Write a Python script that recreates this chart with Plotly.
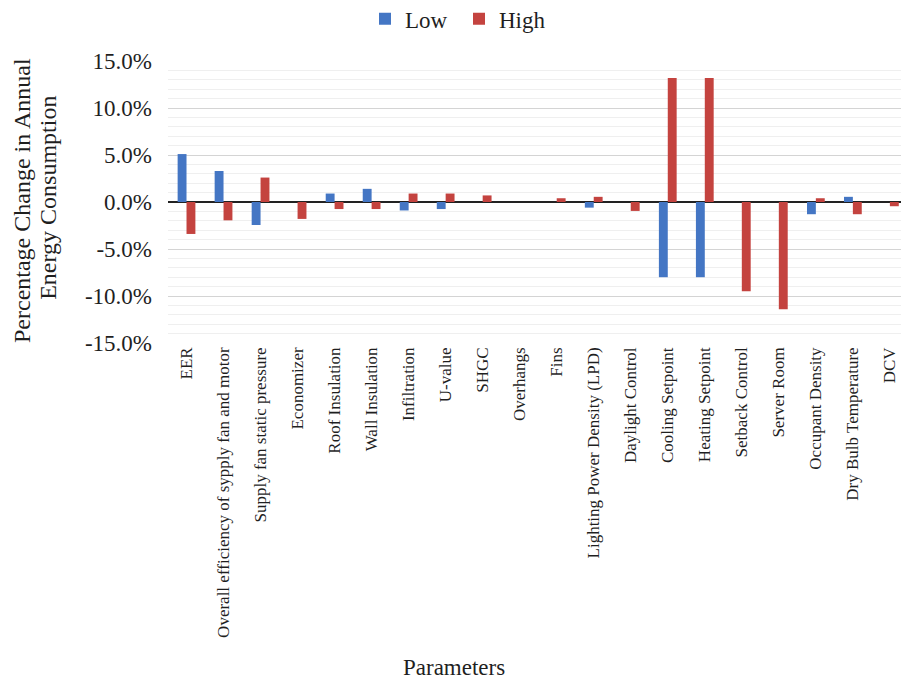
import plotly.graph_objects as go

# Parameters tested in the sensitivity study
parameters = [
    "EER",
    "Overall efficiency of sypply fan and motor",
    "Supply fan static pressure",
    "Economizer",
    "Roof Insulation",
    "Wall Insulation",
    "Infiltration",
    "U-value",
    "SHGC",
    "Overhangs",
    "Fins",
    "Lighting Power Density (LPD)",
    "Daylight Control",
    "Cooling Setpoint",
    "Heating Setpoint",
    "Setback Control",
    "Server Room",
    "Occupant Density",
    "Dry Bulb Temperature",
    "DCV",
]

# Percentage change in annual energy consumption (%)
low_values = [5.1, 3.3, -2.45, 0.0, 0.9, 1.4, -0.9, -0.75, 0.0, 0.0,
              0.0, -0.6, 0.0, -8.0, -8.0, 0.0, 0.0, -1.3, 0.55, 0.0]
high_values = [-3.4, -1.95, 2.6, -1.8, -0.75, -0.75, 0.9, 0.9, 0.7, 0.0,
               0.4, 0.55, -0.95, 13.2, 13.2, -9.5, -11.4, 0.4, -1.3, -0.45]

y_tick_values = [15, 10, 5, 0, -5, -10, -15]
y_tick_labels = ["15.0%", "10.0%", "5.0%", "0.0%", "-5.0%", "-10.0%", "-15.0%"]
y_title_lines = ["Percentage Change in Annual", "Energy Consumption"]

SERIF = "Liberation Serif, Times New Roman, serif"
TEXT = "#1f1f1f"
BLUE = "#4476C4"
RED = "#C4433F"

fig = go.Figure()
fig.add_trace(go.Bar(name="Low", x=parameters, y=low_values, marker_color=BLUE,
                     marker_line_width=0))
fig.add_trace(go.Bar(name="High", x=parameters, y=high_values, marker_color=RED,
                     marker_line_width=0))

fig.update_layout(
    width=901,
    height=681,
    barmode="group",
    bargap=0.52,
    bargroupgap=0.0,
    plot_bgcolor="white",
    paper_bgcolor="white",
    margin=dict(l=168, r=0, t=61, b=338, autoexpand=False),
    font=dict(family=SERIF, color=TEXT),
    legend=dict(
        orientation="h",
        x=0.397, xanchor="center",
        y=1.226, yanchor="top",
        font=dict(family=SERIF, size=23, color=TEXT),
        itemwidth=30,
        entrywidth=49,
        traceorder="normal",
    ),
    showlegend=True,
)

fig.update_xaxes(
    type="category",
    range=[-0.5, 19.3],
    tickangle=-90,
    tickfont=dict(family=SERIF, size=17, color=TEXT),
    showgrid=False,
    showline=False,
    ticks="",
    automargin=False,
)

fig.update_yaxes(
    range=[-15, 15],
    tickvals=y_tick_values,
    ticktext=y_tick_labels,
    tickfont=dict(family=SERIF, size=23, color=TEXT),
    ticklabelstandoff=15,
    showgrid=True,
    gridcolor="#D4D4D4",
    gridwidth=1,
    minor=dict(dtick=1, showgrid=True, gridcolor="#EFEFEF", gridwidth=1),
    zeroline=True,
    zerolinecolor="#222222",
    zerolinewidth=2,
    showline=False,
    ticks="",
    automargin=False,
)

# Y-axis title, one annotation per line
for line, xpos, ypos in zip(y_title_lines, [-0.199, -0.164], [0.504, 0.514]):
    fig.add_annotation(
        text=line,
        xref="paper", yref="paper",
        x=xpos, y=ypos,
        xanchor="center", yanchor="middle",
        textangle=-90,
        showarrow=False,
        font=dict(family=SERIF, size=24, color=TEXT),
    )

fig.add_annotation(
    text="Parameters",
    xref="paper", yref="paper",
    x=0.39, y=-1.149,
    xanchor="center", yanchor="middle",
    showarrow=False,
    font=dict(family=SERIF, size=23, color=TEXT),
)

fig.write_html("out.html")
